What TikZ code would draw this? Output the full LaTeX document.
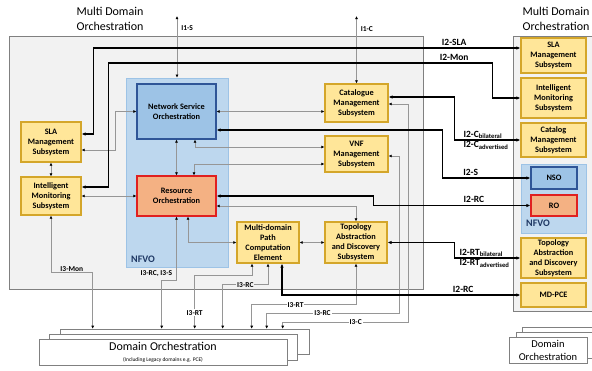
\documentclass[tikz,border=0pt]{standalone}
\usepackage{fontspec}
\setmainfont{Carlito}
\usetikzlibrary{arrows.meta}

\definecolor{subfill}{HTML}{FFE699}
\definecolor{subline}{HTML}{D4A62A}
\definecolor{nsofill}{HTML}{9DC3E6}
\definecolor{nsoline}{HTML}{2F5597}
\definecolor{nfvofill}{HTML}{BDD7EE}
\definecolor{nfvoline}{HTML}{9DC3E6}
\definecolor{rofill}{HTML}{F4B183}
\definecolor{roline}{HTML}{E02020}
\definecolor{mdfill}{HTML}{F2F2F2}
\definecolor{mdline}{HTML}{808080}
\definecolor{ifline}{HTML}{969696}
\definecolor{nfvotext}{HTML}{1F3864}

\tikzset{
  subsys/.style={draw=subline,fill=subfill,line width=1.2pt,align=center,
    font=\fontsize{8.3}{10}\selectfont\bfseries,inner sep=0pt},
  nsobox/.style={subsys,draw=nsoline,fill=nsofill},
  robox/.style={subsys,draw=roline,fill=rofill},
  nfvobox/.style={draw=nfvoline,fill=nfvofill,line width=0.8pt,inner sep=0pt},
  mdbox/.style={draw=mdline,fill=mdfill,line width=0.6pt,inner sep=0pt},
  dobox/.style={draw=mdline,fill=white,line width=0.6pt,inner sep=0pt,align=center},
  ifgray/.style={draw=ifline,line width=0.75pt,>={Latex[black,length=3pt,width=3pt]},<->},
  ifblack/.style={draw=black,line width=1.4pt,>={Latex[length=4pt,width=3.5pt]},<->},
  lab3/.style={font=\fontsize{7.5}{8.5}\selectfont\bfseries,inner sep=1pt},
  lab2/.style={font=\fontsize{9.5}{11}\selectfont\bfseries,inner sep=1pt},
  mdtitle/.style={font=\fontsize{12}{14.5}\selectfont,align=center},
  nfvolab/.style={font=\fontsize{10}{12}\selectfont\bfseries,text=nfvotext},
}

\begin{document}
\begin{tikzpicture}[x=1pt,y=-1pt]
\useasboundingbox (0,0) rectangle (592,370);

% multi domain areas
\node[mdbox,minimum width=414,minimum height=253] (mdL) at (216,162.5) {};
\node[mdbox,minimum width=90,minimum height=275] (mdR) at (558,173.5) {};
\node[mdtitle] (titleL) at (110,19) {Multi Domain\\Orchestration};
\node[mdtitle] (titleR) at (556,19) {Multi Domain\\Orchestration};

% left domain
\node[nfvobox,minimum width=102,minimum height=189] (nfvo) at (177,172.5) {};
\node[nfvolab] (nfvoL) at (143,259) {NFVO};
\node[nsobox,minimum width=79,minimum height=55] (nso) at (176.5,111.5) {Network Service\\Orchestration};
\node[robox,minimum width=79,minimum height=40] (ro) at (176.5,196) {Resource\\Orchestration};
\node[subsys,minimum width=60,minimum height=40] (slaL) at (51,142) {SLA\\Management\\Subsystem};
\node[subsys,minimum width=60,minimum height=38] (imL) at (51,196) {Intelligent\\Monitoring\\Subsystem};
\node[subsys,minimum width=63,minimum height=38] (cat) at (356.5,103) {Catalogue\\Management\\Subsystem};
\node[subsys,minimum width=63,minimum height=36] (vnf) at (356.5,154) {VNF\\Management\\Subsystem};
\node[subsys,minimum width=62,minimum height=41] (pce) at (268,242.5) {Multi-domain\\Path\\Computation\\Element};
\node[subsys,minimum width=62,minimum height=41] (tad) at (356,242.5) {Topology\\Abstraction\\and Discovery\\Subsystem};

% right domain
\node[subsys,minimum width=65,minimum height=35] (rsla) at (553.5,55.5) {SLA\\Management\\Subsystem};
\node[subsys,minimum width=65,minimum height=40] (rim) at (553.5,98) {Intelligent\\Monitoring\\Subsystem};
\node[subsys,minimum width=65,minimum height=34] (rcat) at (553.5,140) {Catalog\\Management\\Subsystem};
\node[nfvobox,minimum width=65,minimum height=69] (rnfvo) at (553.5,198.5) {};
\node[nsobox,minimum width=46,minimum height=22] (rnso) at (554,178) {NSO};
\node[robox,minimum width=46,minimum height=21] (rro) at (554,205.5) {RO};
\node[nfvolab] (nfvoR) at (538,223) {NFVO};
\node[subsys,minimum width=65,minimum height=40] (rtad) at (553.5,258) {Topology\\Abstraction\\and Discovery\\Subsystem};
\node[subsys,minimum width=65,minimum height=24] (rpce) at (553.5,295) {MD-PCE};

% domain orchestration stacks
\node[dobox,minimum width=249,minimum height=25] (dom3) at (184.5,341.5) {};
\node[dobox,minimum width=248,minimum height=26] (dom2) at (173,347) {};
\node[dobox,minimum width=248,minimum height=26] (dom1) at (163,352)
  {{\fontsize{12}{13}\selectfont Domain Orchestration}\\[-1pt]{\fontsize{5.5}{6.5}\selectfont (Including Legacy domains e.g. PCE)}};
\node[dobox,minimum width=78,minimum height=26] (rdom3) at (561,340) {};
\node[dobox,minimum width=78,minimum height=26] (rdom2) at (555,345) {};
\node[dobox,minimum width=78,minimum height=26,font=\fontsize{10.5}{13}\selectfont] (rdom1) at (548,350) {Domain\\Orchestration};

% internal interfaces
\draw[ifgray] ([yshift=-8pt]slaL.east) -| ([xshift=-21pt]nso.west) -- (nso.west);
\draw[ifgray] (slaL.south) -- (imL.north);
\draw[ifgray] (imL.east) -- (ro.west);
\draw[ifgray] (nso.east) -- (nso.east -| cat.west);
\draw[ifgray] (nso.south) -- (ro.north);
\draw[ifgray] ([xshift=18.5pt]nso.south) |- ([yshift=7pt]vnf.west);
\draw[ifgray] ([xshift=17.5pt]ro.north) |- ([yshift=-10pt]vnf.west);
\draw[ifgray] ([yshift=-10pt]ro.east) -| (tad.north);
\draw[ifgray] ([xshift=11.5pt]ro.south) |- (pce.west);
\draw[ifgray] (pce.east) -- (tad.west);

% I1
\coordinate (i1s) at (177,16);
\coordinate (i1c) at (356.5,16);
\draw[ifgray] (i1s) -- node[lab3,right=3pt,pos=0.19]{I1-S} (i1s |- nfvo.north);
\draw[ifgray] (i1c) -- node[lab3,right=3pt,pos=0.19]{I1-C} (cat.north);

% I3
\draw[ifgray] (imL.south) -- ++(0,57) -| node[lab3,above,pos=0.25]{I3-Mon} ([xshift=33pt]dom3.north west);
\draw[ifgray] (ro.south) -- node[lab3,left=3pt,pos=0.89]{I3-RC, I3-S} ++(0,64) -| ([xshift=102pt]dom3.north west);
\draw[ifgray] ([xshift=-16pt]pce.south) -- ++(0,12) -| node[lab3,fill=white,pos=0.85]{I3-RT} ([xshift=135pt]dom3.north west);
\draw[ifgray] (pce.south) -- ++(0,21) -| node[lab3,fill=mdfill,pos=0.25]{I3-RC} ([xshift=163pt]dom3.north west);
\draw[ifgray] (tad.south) -- ++(0,41) -| node[lab3,fill=white,pos=0.29]{I3-RT} ([xshift=192pt]dom3.north west);
\draw[ifgray] ([yshift=-2pt]vnf.east) -- ++(11,0) -- ++(0,157) -| node[lab3,fill=white,pos=0.29]{I3-RC} ([xshift=207pt]dom3.north west);
\draw[ifgray] ([yshift=-1pt]cat.east) -- ++(20,0) -- ++(0,218) -| node[lab3,fill=white,pos=0.21]{I3-C} ([xshift=223pt]dom3.north west);

% I2
\draw[ifblack] ([yshift=7.5pt]rsla.west) -- node[lab2,above=1pt,pos=0.155]{I2-SLA} ++(-427,0) |- ([yshift=8pt]slaL.east);
\draw[ifblack] ([yshift=9pt]imL.east) -- ++(27,0) -- ++(0,-124) -- node[lab2,above=1pt,pos=0.9]{I2-Mon} ++(384,0) |- (rim.west);
\draw[ifblack] ([yshift=6pt]cat.east) -- ++(66,0) |- (rcat.west);
\node[lab2,anchor=south west] (i2cb) at ([xshift=-58pt]rcat.west) {I2-C\textsubscript{bilateral}};
\node[lab2,anchor=north west] (i2ca) at ([xshift=-58pt]rcat.west) {I2-C\textsubscript{advertised}};
\draw[ifblack] ([yshift=-18.5pt]nso.east) -- ++(226,0) |- node[lab2,above=1pt,pos=0.66]{I2-S} (rnso.west);
\draw[ifblack] (ro.east) -- ++(157,0) |- node[lab2,above=1pt,pos=0.82]{I2-RC} (rro.west);
\draw[ifblack] (tad.east) -- ++(67,0) |- (rtad.west);
\node[lab2,anchor=south west] (i2rb) at ([xshift=-62pt]rtad.west) {I2-RT\textsubscript{bilateral}};
\node[lab2,anchor=north west] (i2ra) at ([xshift=-62pt]rtad.west) {I2-RT\textsubscript{advertised}};
\draw[ifblack] ([xshift=14pt]pce.south) |- node[lab2,above=1pt,pos=0.88]{I2-RC} (rpce.west);
\end{tikzpicture}
\end{document}
